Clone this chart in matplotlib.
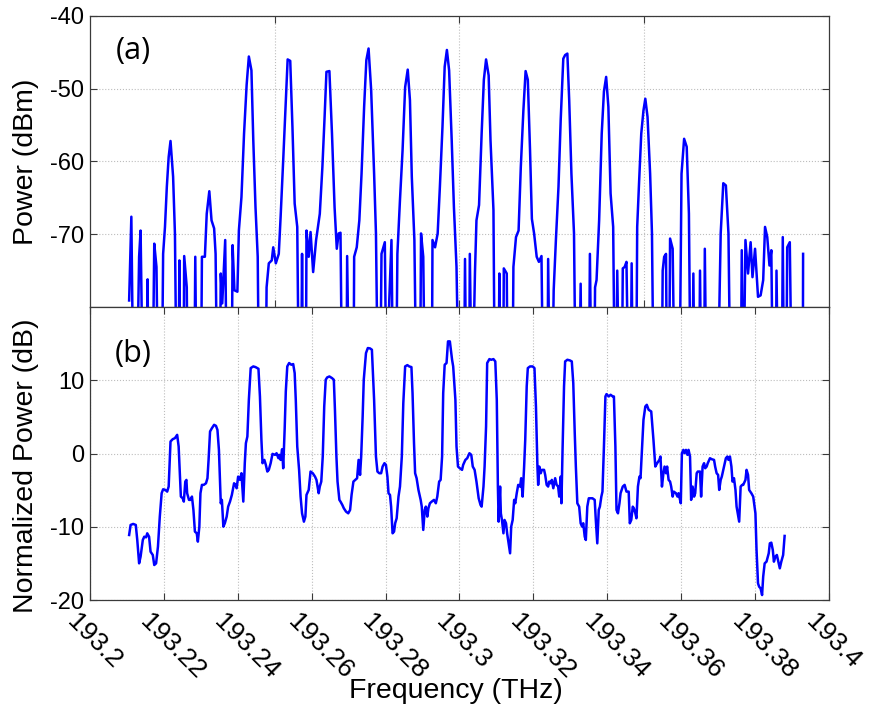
import matplotlib
matplotlib.use("Agg")
import matplotlib.pyplot as plt
import matplotlib.transforms as mtransforms

# ---------------- data ----------------
freq_a = [193.2106, 193.2112, 193.2118, 193.2126, 193.2133, 193.2137, 193.2144, 193.2153, 193.2156, 193.2159,
          193.2169, 193.2174, 193.2180, 193.2185, 193.2194, 193.2198, 193.2203, 193.2208, 193.2213, 193.2218,
          193.2225, 193.2230, 193.2235, 193.2239, 193.2242, 193.2245, 193.2253, 193.2255, 193.2262, 193.2265,
          193.2282, 193.2285, 193.2289, 193.2300, 193.2303, 193.2311, 193.2316, 193.2323, 193.2329, 193.2336,
          193.2340, 193.2345, 193.2351, 193.2354, 193.2358, 193.2366, 193.2371, 193.2383, 193.2386, 193.2391,
          193.2399, 193.2403, 193.2410, 193.2417, 193.2424, 193.2430, 193.2437, 193.2442, 193.2448, 193.2454,
          193.2458, 193.2475, 193.2478, 193.2484, 193.2492, 193.2496, 193.2503, 193.2511, 193.2516, 193.2523,
          193.2530, 193.2535, 193.2542, 193.2548, 193.2554, 193.2561, 193.2566, 193.2571, 193.2574, 193.2577,
          193.2584, 193.2586, 193.2592, 193.2597, 193.2604, 193.2612, 193.2622, 193.2629, 193.2635, 193.2640,
          193.2648, 193.2655, 193.2662, 193.2668, 193.2673, 193.2678, 193.2683, 193.2694, 193.2696, 193.2702,
          193.2713, 193.2715, 193.2722, 193.2729, 193.2735, 193.2742, 193.2748, 193.2754, 193.2761, 193.2769,
          193.2774, 193.2780, 193.2785, 193.2789, 193.2798, 193.2803, 193.2810, 193.2816, 193.2821, 193.2828,
          193.2832, 193.2839, 193.2846, 193.2853, 193.2860, 193.2866, 193.2871, 193.2878, 193.2884, 193.2893,
          193.2896, 193.2902, 193.2907, 193.2925, 193.2927, 193.2934, 193.2941, 193.2947, 193.2954, 193.2960,
          193.2966, 193.2972, 193.2979, 193.2985, 193.2992, 193.2999, 193.3012, 193.3015, 193.3019, 193.3026,
          193.3028, 193.3034, 193.3042, 193.3046, 193.3053, 193.3060, 193.3066, 193.3072, 193.3079, 193.3084,
          193.3092, 193.3096, 193.3105, 193.3108, 193.3111, 193.3118, 193.3120, 193.3128, 193.3131, 193.3143,
          193.3146, 193.3153, 193.3160, 193.3166, 193.3173, 193.3179, 193.3185, 193.3191, 193.3196, 193.3202,
          193.3209, 193.3215, 193.3222, 193.3227, 193.3238, 193.3240, 193.3245, 193.3250, 193.3255, 193.3261,
          193.3268, 193.3274, 193.3281, 193.3286, 193.3292, 193.3297, 193.3303, 193.3310, 193.3315, 193.3323,
          193.3328, 193.3331, 193.3350, 193.3353, 193.3358, 193.3364, 193.3367, 193.3371, 193.3378, 193.3385,
          193.3391, 193.3397, 193.3403, 193.3409, 193.3416, 193.3421, 193.3424, 193.3427, 193.3433, 193.3439,
          193.3442, 193.3447, 193.3452, 193.3458, 193.3463, 193.3466, 193.3470, 193.3478, 193.3481, 193.3486,
          193.3492, 193.3498, 193.3503, 193.3509, 193.3516, 193.3521, 193.3526, 193.3547, 193.3550, 193.3554,
          193.3559, 193.3562, 193.3567, 193.3570, 193.3577, 193.3583, 193.3595, 193.3601, 193.3608, 193.3615,
          193.3621, 193.3626, 193.3630, 193.3633, 193.3637, 193.3648, 193.3651, 193.3655, 193.3662, 193.3664,
          193.3669, 193.3698, 193.3707, 193.3714, 193.3721, 193.3728, 193.3734, 193.3761, 193.3764, 193.3768,
          193.3774, 193.3781, 193.3788, 193.3793, 193.3800, 193.3808, 193.3815, 193.3822, 193.3827, 193.3833,
          193.3839, 193.3844, 193.3849, 193.3856, 193.3858, 193.3863, 193.3872, 193.3875, 193.3879, 193.3884,
          193.3887, 193.3894, 193.3900, 193.3929, 193.3930]

power_a = [-79.1, -67.6, -95, -95, -73.1, -69.5, -95, -95, -76.2, -95,
           -95, -71.3, -74.5, -95, -95, -72.7, -69.0, -63.5, -59.4, -57.2,
           -62.1, -70.0, -95, -95, -73.6, -95, -95, -73.0, -77.3, -95,
           -95, -73.1, -95, -95, -73.1, -73.1, -67.2, -64.1, -68.1, -69.2,
           -72.7, -95, -95, -75.4, -79.5, -70.8, -95, -95, -71.5, -77.7,
           -77.9, -69.5, -64.9, -56.2, -49.5, -45.6, -47.5, -57.1, -66.3, -73.1,
           -95, -95, -77.3, -74.0, -73.6, -71.8, -74.0, -72.7, -67.6, -59.8,
           -51.6, -46.0, -46.2, -55.3, -65.8, -69.0, -95, -95, -72.7, -95,
           -95, -69.5, -73.1, -69.7, -75.2, -70.8, -67.2, -60.8, -53.9, -47.7,
           -47.6, -56.2, -66.3, -72.0, -69.9, -69.8, -95, -95, -73.0, -95,
           -95, -73.1, -71.8, -68.1, -61.7, -52.5, -46.1, -44.5, -50.2, -61.7,
           -69.9, -95, -95, -72.7, -71.1, -95, -79.1, -70.8, -95, -95,
           -72.7, -65.3, -58.5, -49.8, -47.4, -51.6, -62.1, -70.8, -95, -95,
           -69.9, -73.1, -95, -95, -70.8, -71.8, -69.9, -63.5, -55.3, -47.0,
           -44.7, -47.5, -57.1, -66.3, -74.5, -95, -95, -73.4, -95, -95,
           -72.7, -95, -75.2, -68.1, -66.0, -56.2, -48.8, -46.0, -48.2, -57.1,
           -66.7, -95, -95, -75.4, -95, -95, -74.7, -75.4, -95, -95,
           -74.5, -70.4, -69.5, -60.8, -53.0, -47.6, -48.8, -58.5, -67.9, -69.9,
           -73.1, -73.8, -73.0, -95, -95, -73.4, -95, -95, -77.7, -70.8,
           -63.5, -54.3, -45.9, -45.4, -45.2, -51.6, -61.7, -69.9, -95, -95,
           -76.8, -95, -95, -72.7, -95, -95, -77.3, -76.3, -68.1, -56.2,
           -50.4, -48.4, -52.5, -64.4, -69.0, -95, -95, -75.0, -95, -95,
           -74.7, -74.5, -73.8, -95, -95, -74.0, -95, -95, -69.0, -63.0,
           -56.2, -53.0, -51.4, -53.9, -61.7, -69.9, -95, -95, -75.0, -73.1,
           -72.7, -95, -95, -70.6, -72.0, -95, -95, -61.7, -56.9, -58.0,
           -67.2, -95, -95, -75.4, -95, -95, -75.0, -95, -95, -72.0,
           -95, -95, -69.9, -63.0, -63.3, -69.9, -95, -95, -72.2, -95,
           -70.8, -75.4, -71.1, -75.9, -72.0, -78.6, -78.4, -76.3, -69.0, -70.4,
           -74.3, -72.2, -95, -95, -75.0, -95, -95, -70.4, -95, -95,
           -71.8, -71.1, -95, -95, -72.7]

freq_b = [193.2106, 193.2110, 193.2117, 193.2124, 193.2128, 193.2133, 193.2137, 193.2143, 193.2147, 193.2152,
          193.2155, 193.2160, 193.2164, 193.2170, 193.2174, 193.2179, 193.2184, 193.2189, 193.2194, 193.2198,
          193.2204, 193.2209, 193.2213, 193.2216, 193.2218, 193.2224, 193.2230, 193.2236, 193.2240, 193.2244,
          193.2246, 193.2251, 193.2254, 193.2258, 193.2261, 193.2263, 193.2268, 193.2272, 193.2276, 193.2280,
          193.2284, 193.2289, 193.2292, 193.2296, 193.2299, 193.2303, 193.2308, 193.2314, 193.2318, 193.2321,
          193.2325, 193.2330, 193.2336, 193.2341, 193.2345, 193.2349, 193.2352, 193.2354, 193.2357, 193.2361,
          193.2365, 193.2370, 193.2374, 193.2379, 193.2384, 193.2390, 193.2394, 193.2397, 193.2401, 193.2406,
          193.2410, 193.2415, 193.2419, 193.2422, 193.2426, 193.2430, 193.2435, 193.2442, 193.2448, 193.2456,
          193.2460, 193.2464, 193.2467, 193.2472, 193.2476, 193.2480, 193.2484, 193.2489, 193.2494, 193.2501,
          193.2505, 193.2510, 193.2512, 193.2516, 193.2520, 193.2523, 193.2527, 193.2530, 193.2534, 193.2539,
          193.2545, 193.2550, 193.2554, 193.2557, 193.2561, 193.2566, 193.2570, 193.2574, 193.2579, 193.2583,
          193.2586, 193.2592, 193.2597, 193.2603, 193.2609, 193.2613, 193.2619, 193.2622, 193.2626, 193.2630,
          193.2634, 193.2638, 193.2642, 193.2648, 193.2655, 193.2660, 193.2663, 193.2667, 193.2670, 193.2675,
          193.2678, 193.2683, 193.2687, 193.2693, 193.2699, 193.2704, 193.2708, 193.2713, 193.2718, 193.2723,
          193.2727, 193.2731, 193.2734, 193.2738, 193.2741, 193.2747, 193.2752, 193.2758, 193.2763, 193.2769,
          193.2774, 193.2778, 193.2783, 193.2788, 193.2792, 193.2797, 193.2801, 193.2805, 193.2808, 193.2812,
          193.2815, 193.2819, 193.2823, 193.2826, 193.2830, 193.2835, 193.2839, 193.2844, 193.2848, 193.2853,
          193.2859, 193.2864, 193.2870, 193.2873, 193.2877, 193.2880, 193.2884, 193.2889, 193.2895, 193.2898,
          193.2902, 193.2906, 193.2909, 193.2913, 193.2916, 193.2920, 193.2925, 193.2931, 193.2936, 193.2940,
          193.2945, 193.2949, 193.2953, 193.2956, 193.2960, 193.2965, 193.2969, 193.2974, 193.2980, 193.2983,
          193.2989, 193.2992, 193.2996, 193.3001, 193.3007, 193.3010, 193.3016, 193.3021, 193.3027, 193.3032,
          193.3036, 193.3041, 193.3046, 193.3052, 193.3057, 193.3060, 193.3065, 193.3068, 193.3072, 193.3075,
          193.3081, 193.3086, 193.3092, 193.3097, 193.3101, 193.3104, 193.3106, 193.3110, 193.3112, 193.3115,
          193.3119, 193.3122, 193.3126, 193.3129, 193.3133, 193.3137, 193.3140, 193.3144, 193.3148, 193.3151,
          193.3155, 193.3159, 193.3164, 193.3167, 193.3171, 193.3175, 193.3178, 193.3182, 193.3185, 193.3191,
          193.3198, 193.3203, 193.3207, 193.3211, 193.3213, 193.3216, 193.3220, 193.3223, 193.3229, 193.3232,
          193.3236, 193.3240, 193.3243, 193.3247, 193.3250, 193.3254, 193.3259, 193.3263, 193.3267, 193.3270,
          193.3274, 193.3276, 193.3279, 193.3283, 193.3286, 193.3292, 193.3299, 193.3304, 193.3308, 193.3312,
          193.3315, 193.3319, 193.3324, 193.3328, 193.3332, 193.3335, 193.3339, 193.3342, 193.3346, 193.3350,
          193.3355, 193.3360, 193.3366, 193.3369, 193.3373, 193.3377, 193.3380, 193.3384, 193.3387, 193.3391,
          193.3395, 193.3398, 193.3404, 193.3409, 193.3415, 193.3418, 193.3422, 193.3425, 193.3429, 193.3433,
          193.3436, 193.3442, 193.3447, 193.3452, 193.3458, 193.3461, 193.3465, 193.3469, 193.3472, 193.3476,
          193.3479, 193.3483, 193.3487, 193.3490, 193.3494, 193.3498, 193.3503, 193.3507, 193.3512, 193.3519,
          193.3525, 193.3530, 193.3535, 193.3541, 193.3544, 193.3548, 193.3552, 193.3555, 193.3559, 193.3562,
          193.3566, 193.3570, 193.3573, 193.3577, 193.3580, 193.3586, 193.3590, 193.3593, 193.3599, 193.3602,
          193.3606, 193.3609, 193.3613, 193.3617, 193.3620, 193.3624, 193.3627, 193.3631, 193.3635, 193.3638,
          193.3642, 193.3645, 193.3651, 193.3654, 193.3658, 193.3662, 193.3665, 193.3669, 193.3672, 193.3678,
          193.3683, 193.3689, 193.3692, 193.3696, 193.3700, 193.3703, 193.3707, 193.3710, 193.3714, 193.3718,
          193.3721, 193.3725, 193.3728, 193.3732, 193.3736, 193.3739, 193.3743, 193.3747, 193.3750, 193.3754,
          193.3757, 193.3761, 193.3765, 193.3768, 193.3774, 193.3777, 193.3781, 193.3784, 193.3790, 193.3795,
          193.3801, 193.3804, 193.3808, 193.3811, 193.3815, 193.3819, 193.3822, 193.3826, 193.3831, 193.3837,
          193.3840, 193.3844, 193.3848, 193.3851, 193.3855, 193.3859, 193.3862, 193.3867, 193.3871, 193.3876,
          193.3880]

norm_b = [-11.12, -9.75, -9.61, -9.75, -11.80, -14.99, -14.08, -11.80, -11.35, -11.44,
          -10.89, -11.35, -13.40, -13.85, -15.22, -14.99, -12.71, -8.61, -5.42, -4.88,
          -4.97, -5.20, -4.51, -0.87, 1.64, 1.96, 2.10, 2.55, 0.96, -3.60,
          -5.88, -6.11, -6.56, -3.83, -3.60, -5.42, -6.33, -6.33, -5.88, -7.70,
          -10.66, -10.89, -12.03, -9.98, -5.42, -4.28, -4.28, -4.06, -3.37, -0.87,
          3.01, 3.46, 3.92, 3.78, 3.23, 0.50, -4.06, -6.79, -6.33, -9.98,
          -9.52, -8.61, -7.25, -6.56, -5.65, -4.06, -4.28, -4.74, -3.15, -3.60,
          -2.69, -6.56, -1.32, 1.41, 2.32, 7.33, 11.66, 11.89, 11.80, 11.57,
          7.79, 1.87, -1.32, -0.87, -1.55, -2.46, -2.23, -1.32, -0.05, -0.18,
          0.04, -0.64, -0.18, -0.87, 0.59, -2.01, 3.46, 8.47, 11.89, 12.35,
          12.12, 12.21, 10.98, 7.33, 0.96, -2.23, -5.88, -8.16, -9.30, -8.61,
          -5.65, -4.97, -2.46, -2.69, -3.15, -3.60, -5.42, -4.51, -3.83, -0.41,
          6.42, 10.07, 10.39, 10.52, 10.30, 10.07, 5.97, -0.41, -3.83, -6.33,
          -6.56, -7.02, -7.47, -7.93, -8.16, -7.70, -5.65, -3.83, -3.60, -3.37,
          -0.87, -2.92, -0.41, 5.06, 10.07, 13.71, 14.40, 14.35, 14.17, 7.33,
          -0.41, -2.46, -2.69, -2.69, -1.78, -1.32, -1.55, -3.15, -5.42, -5.65,
          -7.25, -10.89, -10.66, -9.52, -8.84, -5.88, -4.51, -0.41, 6.88, 11.89,
          12.07, 11.89, 11.80, 8.25, 1.41, -2.69, -3.37, -4.97, -6.33, -7.25,
          -10.43, -7.70, -7.25, -8.61, -7.47, -6.79, -6.56, -6.33, -6.79, -5.88,
          -3.83, -3.60, -0.41, 8.25, 12.12, 12.35, 15.31, 15.31, 12.80, 11.89,
          7.33, 0.96, -1.78, -2.01, -2.23, -1.55, -0.87, -0.64, 0.04, -0.18,
          -1.78, -2.23, -3.83, -6.11, -7.02, -7.25, -4.51, -1.78, 3.69, 12.35,
          12.89, 12.80, 12.89, 12.57, 7.33, -4.51, -9.30, -4.51, -8.16, -9.07,
          -10.89, -9.07, -9.52, -10.89, -12.26, -13.62, -9.98, -9.07, -6.33, -6.79,
          -5.42, -4.28, -4.51, -3.37, -5.88, -1.78, 1.87, 9.16, 11.66, 11.89,
          11.89, 11.66, 6.42, -1.78, -4.28, -1.78, -2.69, -2.23, -2.23, -2.92,
          -4.28, -4.51, -3.83, -4.06, -3.60, -4.74, -3.37, -4.28, -4.51, -5.88,
          -3.15, -6.79, 0.50, 9.16, 12.57, 12.80, 12.71, 12.57, 9.61, 2.78,
          -1.78, -6.79, -7.25, -9.52, -9.98, -9.52, -11.35, -11.80, -7.25, -6.11,
          -6.11, -6.11, -6.33, -9.07, -12.26, -7.70, -7.25, -5.88, -5.20, 0.96,
          7.79, 8.11, 7.79, 8.02, 7.79, 7.79, 0.96, -7.70, -8.16, -6.79,
          -5.42, -4.51, -4.28, -5.20, -5.20, -9.52, -9.07, -7.25, -7.47, -8.16,
          -8.84, -4.51, -3.15, -3.37, 0.50, 4.60, 6.42, 6.65, 5.97, 5.74,
          1.87, -1.78, -1.32, -0.87, -0.41, -4.51, -2.69, -1.78, -2.69, -1.78,
          -3.60, -3.83, -4.51, -5.88, -5.20, -5.42, -5.88, -5.42, -6.79, 0.04,
          0.50, 0.04, 0.50, -0.18, 0.50, -0.41, -6.33, -4.51, -5.88, -5.42,
          -2.69, -2.46, -2.46, -5.88, -1.78, -1.32, -2.01, -1.78, -1.32, -0.64,
          -0.78, -0.87, -1.78, -2.69, -2.92, -4.97, -3.60, -3.15, -2.23, -1.32,
          -0.64, -0.41, -0.87, -0.41, -1.78, -3.83, -3.37, -4.97, -7.25, -8.38,
          -9.30, -4.51, -4.28, -4.28, -3.60, -2.23, -2.92, -4.97, -5.42, -5.88,
          -8.16, -13.17, -17.72, -18.18, -18.41, -19.32, -16.81, -14.99, -14.76, -13.62,
          -12.26, -12.17, -13.17, -14.76, -14.08, -13.85, -14.53, -15.67, -14.76, -13.85,
          -11.25]

xticks_b = [193.2, 193.22, 193.24, 193.26, 193.28, 193.3, 193.32, 193.34, 193.36, 193.38, 193.4]
xtick_labels_b = ["193.2", "193.22", "193.24", "193.26", "193.28", "193.3",
                  "193.32", "193.34", "193.36", "193.38", "193.4"]
xticks_a = [193.25, 193.3, 193.35]
yticks_a = [-70, -60, -50, -40]
yticks_b = [-20, -10, 0, 10]

# ---------------- figure ----------------
LINE = "#0000ff"
SPINE = "#3a3a3a"
TICKFONT = "Liberation Sans"

fig = plt.figure(figsize=(8.76, 7.18), dpi=100)
ax1 = fig.add_axes([0.1027, 0.5724, 0.8436, 0.4057])
ax2 = fig.add_axes([0.1027, 0.1643, 0.8436, 0.4081])

for ax in (ax1, ax2):
    for s in ax.spines.values():
        s.set_color(SPINE)
        s.set_linewidth(0.9)
    ax.tick_params(direction="in", length=5, width=0.8, colors=SPINE,
                   top=True, right=True, labelcolor="black")
    ax.grid(True, linestyle=":", color="#bdbdbd", linewidth=0.8)
    ax.set_axisbelow(True)
    ax.set_xlim(193.2, 193.4)

# top panel
ax1.plot(freq_a, power_a, color=LINE, lw=1.8)
ax1.set_ylim(-80, -40)
ax1.set_xticks(xticks_a)
ax1.set_xticklabels([])
ax1.set_yticks(yticks_a)
ax1.set_yticklabels([str(v) for v in yticks_a], fontsize=17, family=TICKFONT)
ax1.tick_params(axis="y", pad=4)
ax1.set_ylabel("Power (dBm)", fontsize=20.5, family=TICKFONT, va="center")
ax1.yaxis.set_label_coords(-0.0866, 0.5)
ax1.text(0.058, 0.88, "(a)", transform=ax1.transAxes, fontsize=22,
         family="Open Sans", ha="center", va="center")

# bottom panel
ax2.plot(freq_b, norm_b, color=LINE, lw=1.8)
ax2.set_ylim(-20, 20)
ax2.set_yticks(yticks_b)
ax2.set_yticklabels([str(v) for v in yticks_b], fontsize=17, family=TICKFONT)
ax2.tick_params(axis="y", pad=4)
ax2.set_xticks(xticks_b)
ax2.set_xticklabels(xtick_labels_b, fontsize=19, family=TICKFONT,
                    rotation=-45, ha="left", va="top", rotation_mode="anchor")
ax2.tick_params(axis="x", pad=0)
offset = mtransforms.ScaledTranslation(-0.11, -0.10, fig.dpi_scale_trans)
for lab in ax2.get_xticklabels():
    lab.set_transform(lab.get_transform() + offset)
ax2.set_ylabel("Normalized Power (dB)", fontsize=20.5, family=TICKFONT, va="center")
ax2.yaxis.set_label_coords(-0.0866, 0.457)
ax2.set_xlabel("Frequency (THz)", fontsize=20.5, family=TICKFONT)
ax2.xaxis.set_label_coords(0.495, -0.31)
ax2.xaxis.label.set_va("center")
ax2.text(0.058, 0.84, "(b)", transform=ax2.transAxes, fontsize=22,
         family="Open Sans", ha="center", va="center")

fig.savefig("out.png", dpi=100)
